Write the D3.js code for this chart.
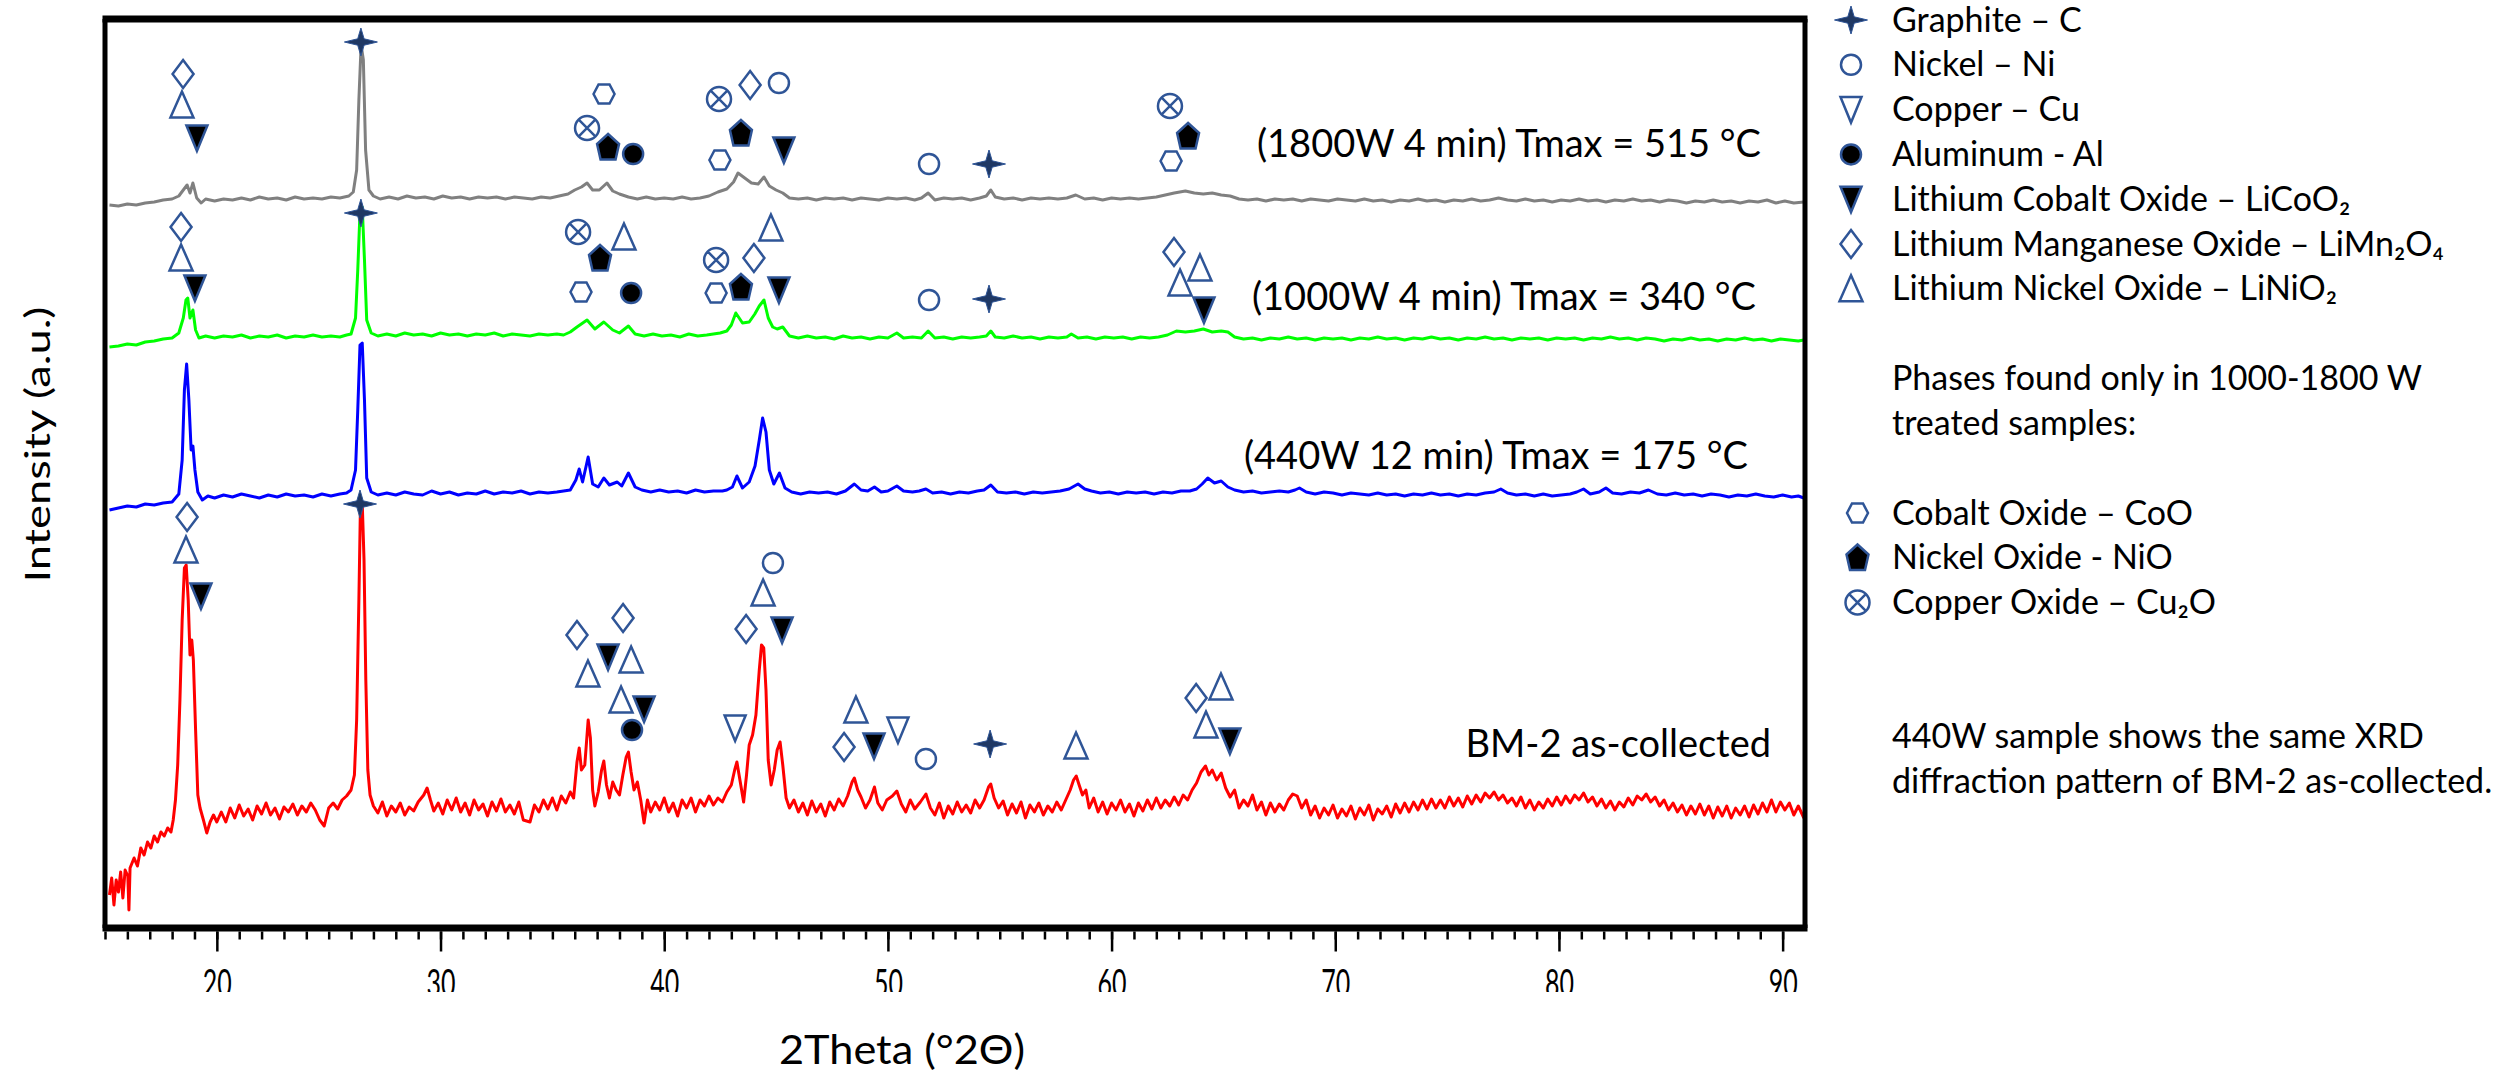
<!DOCTYPE html>
<html>
<head>
<meta charset="utf-8">
<script src="https://cdn.jsdelivr.net/npm/d3@7"></script>
<style>
  body { margin: 0; background: #fff; }
  text { font-family: Lato, 'Open Sans', sans-serif; fill: #000; }
</style>
</head>
<body>
<script>
// XRD traces, [2theta, intensity a.u.] (stacked, offsets included)
const trace1800 = [[15.2,723],[15.6,722],[16.0,724],[16.4,723],[16.8,725],[17.2,726],[17.6,728],[18.0,729],[18.3,732],[18.5,738],[18.67,743],[18.8,735],[18.93,745],[19.1,730],[19.3,725],[19.5,729],[19.9,727],[20.3,729],[20.7,728],[21.1,730],[21.5,728],[21.9,731],[22.3,729],[22.7,730],[23.1,728],[23.5,731],[23.9,729],[24.3,730],[24.7,729],[25.1,731],[25.5,730],[25.9,732],[26.1,736],[26.25,758],[26.35,828],[26.45,883],[26.55,868],[26.65,778],[26.8,738],[27.0,732],[27.3,729],[27.7,731],[28.1,729],[28.5,732],[28.9,730],[29.3,731],[29.7,729],[30.1,732],[30.5,730],[30.9,731],[31.3,729],[31.7,731],[32.1,730],[32.5,731],[32.9,729],[33.3,731],[33.7,730],[34.1,729],[34.5,731],[34.9,730],[35.3,732],[35.7,734],[36.0,738],[36.3,741],[36.55,745],[36.8,738],[37.1,738],[37.44,745],[37.7,737],[38.0,734],[38.4,731],[38.8,729],[39.2,731],[39.6,729],[40.0,730],[40.4,729],[40.8,731],[41.2,729],[41.6,730],[42.0,732],[42.4,736],[42.8,739],[43.1,746],[43.3,755],[43.6,750],[43.9,745],[44.2,744],[44.46,751],[44.7,742],[45.0,738],[45.3,735],[45.6,730],[46.0,729],[46.4,730],[46.8,728],[47.2,730],[47.6,729],[48.0,730],[48.4,728],[48.8,730],[49.2,729],[49.6,728],[50.0,730],[50.4,729],[50.8,730],[51.2,728],[51.5,730],[51.8,735],[52.1,728],[52.5,730],[52.9,729],[53.3,730],[53.7,728],[54.1,730],[54.4,732],[54.6,738],[54.8,731],[55.2,729],[55.6,730],[56.0,728],[56.4,730],[56.8,729],[57.2,730],[57.6,729],[58.0,730],[58.4,733],[58.8,729],[59.2,730],[59.6,728],[60.0,730],[60.4,729],[60.8,730],[61.2,729],[61.6,730],[62.0,731],[62.4,733],[62.8,735],[63.3,737],[63.7,735],[64.1,734],[64.5,735],[64.9,733],[65.3,732],[65.7,729],[66.1,728],[66.5,729],[66.9,727],[67.3,729],[67.7,728],[68.1,729],[68.5,727],[68.9,729],[69.3,728],[69.7,727],[70.1,729],[70.5,728],[70.9,727],[71.3,729],[71.7,727],[72.1,728],[72.5,726],[72.9,728],[73.3,727],[73.7,729],[74.1,727],[74.5,728],[74.9,726],[75.3,728],[75.7,727],[76.1,729],[76.5,727],[76.9,728],[77.3,730],[77.7,728],[78.1,727],[78.5,729],[78.9,727],[79.3,728],[79.7,726],[80.1,728],[80.5,727],[80.9,729],[81.3,727],[81.7,728],[82.1,726],[82.5,728],[82.9,727],[83.3,729],[83.7,727],[84.1,728],[84.5,726],[84.9,728],[85.3,727],[85.7,725],[86.1,727],[86.5,726],[86.9,728],[87.3,726],[87.7,727],[88.1,725],[88.5,727],[88.9,726],[89.3,728],[89.7,725],[90.1,727],[90.5,725],[90.95,726]]

const trace1000 = [[15.2,581],[15.6,582],[16.0,584],[16.4,583],[16.8,586],[17.2,587],[17.6,589],[18.0,590],[18.3,595],[18.5,610],[18.62,628],[18.7,630],[18.8,610],[18.93,618],[19.05,598],[19.2,590],[19.5,592],[19.9,590],[20.3,592],[20.7,591],[21.1,593],[21.5,590],[21.9,592],[22.3,591],[22.7,593],[23.1,590],[23.5,592],[23.9,591],[24.3,593],[24.7,591],[25.1,592],[25.5,591],[25.8,593],[26.0,594],[26.2,610],[26.3,658],[26.4,716],[26.5,721],[26.6,668],[26.7,608],[26.9,595],[27.2,592],[27.6,594],[28.0,592],[28.4,595],[28.8,593],[29.2,594],[29.6,592],[30.0,595],[30.4,593],[30.8,594],[31.2,592],[31.6,594],[32.0,593],[32.4,595],[32.8,592],[33.2,594],[33.6,593],[34.0,592],[34.4,594],[34.8,593],[35.2,594],[35.5,593],[35.8,596],[36.1,601],[36.55,608],[36.9,599],[37.3,606],[37.7,598],[38.0,595],[38.4,602],[38.7,594],[39.1,592],[39.5,594],[39.9,592],[40.3,593],[40.7,591],[41.1,594],[41.5,592],[41.9,593],[42.2,594],[42.5,595],[42.8,597],[43.0,603],[43.2,615],[43.5,605],[43.8,606],[44.05,614],[44.25,622],[44.46,628],[44.65,610],[44.85,601],[45.05,599],[45.3,601],[45.6,592],[46.0,590],[46.4,592],[46.8,590],[47.2,591],[47.6,589],[48.0,592],[48.4,590],[48.8,591],[49.2,589],[49.6,591],[50.0,590],[50.4,595],[50.7,590],[51.1,591],[51.5,590],[51.8,597],[52.1,590],[52.5,591],[52.9,589],[53.3,591],[53.7,590],[54.1,591],[54.4,592],[54.6,597],[54.8,591],[55.2,590],[55.6,592],[56.0,590],[56.4,591],[56.8,589],[57.2,591],[57.6,590],[58.0,591],[58.2,594],[58.5,590],[58.9,591],[59.3,589],[59.7,591],[60.1,590],[60.5,591],[60.9,589],[61.3,591],[61.7,590],[62.1,591],[62.5,593],[62.9,597],[63.3,596],[63.7,597],[64.1,599],[64.5,596],[64.9,597],[65.2,596],[65.5,591],[65.9,589],[66.3,590],[66.7,588],[67.1,590],[67.5,589],[67.9,591],[68.3,589],[68.7,590],[69.1,588],[69.5,590],[69.9,589],[70.3,590],[70.7,588],[71.1,590],[71.5,589],[71.9,591],[72.3,589],[72.7,590],[73.1,588],[73.5,590],[73.9,589],[74.3,591],[74.7,589],[75.1,590],[75.5,588],[75.9,590],[76.3,589],[76.7,591],[77.1,589],[77.5,590],[77.9,588],[78.3,590],[78.7,589],[79.1,590],[79.5,588],[79.9,590],[80.3,589],[80.7,590],[81.1,588],[81.5,590],[81.9,589],[82.3,591],[82.7,589],[83.1,590],[83.5,588],[83.9,590],[84.3,589],[84.7,587],[85.1,589],[85.5,588],[85.9,590],[86.3,588],[86.7,589],[87.1,587],[87.5,589],[87.9,588],[88.3,590],[88.7,588],[89.1,589],[89.5,587],[89.9,589],[90.3,588],[90.7,587],[90.95,588]]

const trace440 = [[15.2,418],[15.6,420],[16.0,422],[16.4,421],[16.8,424],[17.2,423],[17.6,425],[18.0,426],[18.3,434],[18.45,468],[18.55,538],[18.65,564],[18.75,528],[18.85,478],[18.93,482],[19.02,458],[19.15,436],[19.35,428],[19.6,432],[19.9,430],[20.3,433],[20.7,431],[21.1,434],[21.5,432],[21.9,430],[22.3,433],[22.7,431],[23.1,434],[23.5,432],[23.9,433],[24.3,431],[24.7,434],[25.1,432],[25.5,434],[25.8,435],[26.0,438],[26.2,458],[26.3,518],[26.4,583],[26.5,585],[26.6,528],[26.7,450],[26.9,436],[27.2,433],[27.6,435],[28.0,433],[28.4,436],[28.8,434],[29.2,433],[29.6,437],[30.0,434],[30.4,436],[30.8,433],[31.2,435],[31.6,434],[32.0,437],[32.4,434],[32.8,436],[33.2,435],[33.6,437],[34.0,434],[34.4,436],[34.8,435],[35.2,436],[35.5,437],[35.8,438],[36.05,448],[36.2,459],[36.35,446],[36.6,471],[36.8,444],[37.05,441],[37.3,450],[37.55,443],[37.9,446],[38.1,442],[38.4,455],[38.7,441],[39.0,438],[39.4,436],[39.8,438],[40.2,436],[40.6,437],[41.0,435],[41.4,438],[41.8,436],[42.2,437],[42.6,437],[42.8,438],[43.05,441],[43.25,452],[43.5,440],[43.8,446],[44.06,462],[44.25,488],[44.4,510],[44.55,496],[44.7,458],[44.9,444],[45.15,455],[45.4,440],[45.7,436],[46.1,434],[46.5,436],[46.9,435],[47.3,436],[47.7,434],[48.1,437],[48.5,444],[48.8,438],[49.1,437],[49.4,441],[49.7,436],[50.0,437],[50.4,442],[50.7,437],[51.1,436],[51.4,437],[51.7,439],[52.0,435],[52.4,436],[52.8,434],[53.2,436],[53.6,435],[54.0,437],[54.3,438],[54.6,443],[54.9,436],[55.3,435],[55.7,436],[56.1,434],[56.5,436],[56.9,435],[57.3,436],[57.7,437],[58.1,439],[58.5,444],[58.8,439],[59.1,437],[59.5,435],[59.9,436],[60.3,434],[60.7,436],[61.1,435],[61.5,436],[61.9,434],[62.3,436],[62.7,435],[63.1,437],[63.5,437],[63.8,439],[64.05,444],[64.3,450],[64.6,445],[64.9,447],[65.2,441],[65.5,438],[65.9,436],[66.3,437],[66.7,435],[67.1,436],[67.5,437],[67.9,436],[68.2,438],[68.4,440],[68.7,436],[69.1,434],[69.5,436],[69.9,435],[70.3,433],[70.7,435],[71.1,434],[71.5,433],[71.9,435],[72.3,433],[72.7,434],[73.1,432],[73.5,434],[73.9,433],[74.3,435],[74.7,433],[75.1,434],[75.5,432],[75.9,434],[76.3,433],[76.7,435],[77.1,436],[77.4,439],[77.7,435],[78.1,433],[78.5,434],[78.9,432],[79.3,434],[79.7,432],[80.1,433],[80.5,434],[80.8,436],[81.1,439],[81.4,434],[81.8,436],[82.1,440],[82.4,435],[82.8,434],[83.2,436],[83.6,435],[84.0,438],[84.4,434],[84.8,433],[85.2,435],[85.6,433],[86.0,434],[86.4,432],[86.8,434],[87.2,433],[87.6,431],[88.0,433],[88.4,432],[88.8,434],[89.2,432],[89.6,431],[90.0,433],[90.4,431],[90.7,432],[90.95,430]]

const traceBM2 = [[15.2,33],[15.3,50],[15.4,23],[15.5,48],[15.6,36],[15.7,56],[15.8,30],[15.9,58],[16.02,52],[16.07,18],[16.12,60],[16.3,70],[16.45,62],[16.6,80],[16.75,73],[16.9,86],[17.05,80],[17.2,92],[17.35,86],[17.5,96],[17.65,92],[17.8,100],[17.95,96],[18.05,108],[18.15,128],[18.25,163],[18.35,228],[18.45,308],[18.55,360],[18.63,363],[18.72,328],[18.8,273],[18.88,288],[18.95,268],[19.05,198],[19.15,133],[19.25,120],[19.4,108],[19.55,95],[19.7,106],[19.85,113],[20.0,106],[20.2,116],[20.4,106],[20.6,120],[20.8,110],[21.0,123],[21.2,112],[21.4,119],[21.6,108],[21.8,122],[22.0,114],[22.2,125],[22.4,113],[22.6,120],[22.8,109],[23.0,121],[23.2,116],[23.4,124],[23.6,113],[23.8,122],[24.0,116],[24.2,125],[24.4,118],[24.6,108],[24.8,102],[25.0,120],[25.2,125],[25.4,119],[25.6,128],[25.8,132],[26.0,138],[26.15,153],[26.25,208],[26.35,328],[26.42,423],[26.5,425],[26.58,368],[26.66,248],[26.75,158],[26.85,133],[27.0,122],[27.2,115],[27.4,126],[27.6,112],[27.8,122],[28.0,116],[28.2,125],[28.4,113],[28.6,121],[28.8,117],[29.0,126],[29.25,133],[29.4,140],[29.55,128],[29.7,117],[29.9,125],[30.1,114],[30.3,128],[30.5,118],[30.7,130],[30.9,116],[31.1,125],[31.3,113],[31.5,128],[31.7,118],[31.9,124],[32.1,112],[32.3,126],[32.5,117],[32.7,129],[32.9,116],[33.1,123],[33.3,114],[33.5,126],[33.7,108],[34.0,106],[34.2,123],[34.4,116],[34.6,128],[34.8,119],[35.0,130],[35.2,118],[35.4,132],[35.6,125],[35.8,136],[35.95,130],[36.1,166],[36.2,180],[36.3,158],[36.45,163],[36.6,208],[36.7,190],[36.8,138],[36.9,122],[37.05,136],[37.2,158],[37.3,167],[37.42,143],[37.55,130],[37.7,146],[37.85,138],[38.0,133],[38.15,153],[38.3,171],[38.4,176],[38.52,156],[38.65,138],[38.8,146],[38.95,128],[39.1,105],[39.25,128],[39.4,116],[39.6,126],[39.8,118],[40.0,130],[40.2,116],[40.4,125],[40.6,112],[40.8,128],[41.0,120],[41.2,130],[41.4,116],[41.6,128],[41.8,122],[42.0,132],[42.2,123],[42.4,130],[42.6,126],[42.8,136],[43.0,143],[43.15,158],[43.25,166],[43.4,146],[43.55,126],[43.68,153],[43.8,183],[43.95,193],[44.1,213],[44.25,258],[44.35,283],[44.45,280],[44.55,238],[44.65,168],[44.78,143],[44.92,158],[45.05,178],[45.18,186],[45.3,163],[45.45,130],[45.6,120],[45.8,128],[46.0,116],[46.2,125],[46.4,113],[46.6,127],[46.8,116],[47.0,124],[47.2,112],[47.4,126],[47.6,118],[47.8,129],[48.0,122],[48.2,132],[48.4,146],[48.5,150],[48.65,138],[48.8,131],[49.0,120],[49.2,128],[49.4,141],[49.55,125],[49.75,118],[49.95,128],[50.2,132],[50.4,137],[50.6,124],[50.8,116],[51.0,128],[51.2,119],[51.45,126],[51.7,134],[51.9,120],[52.1,113],[52.3,125],[52.5,110],[52.7,122],[52.9,114],[53.1,126],[53.3,116],[53.5,123],[53.7,115],[53.9,128],[54.1,120],[54.3,128],[54.5,141],[54.6,144],[54.75,130],[54.95,120],[55.15,127],[55.35,113],[55.55,124],[55.75,115],[55.95,126],[56.15,110],[56.35,123],[56.55,116],[56.75,125],[56.95,113],[57.15,122],[57.35,116],[57.55,126],[57.75,118],[57.95,128],[58.15,138],[58.3,148],[58.42,152],[58.55,143],[58.7,133],[58.85,138],[59.0,120],[59.2,130],[59.4,116],[59.6,126],[59.8,114],[60.0,125],[60.2,118],[60.4,128],[60.6,116],[60.8,124],[61.0,112],[61.2,125],[61.4,117],[61.6,128],[61.8,119],[62.0,130],[62.2,120],[62.4,128],[62.6,122],[62.8,131],[63.0,123],[63.2,133],[63.4,128],[63.6,138],[63.8,145],[64.0,156],[64.2,162],[64.35,153],[64.5,158],[64.7,148],[64.9,155],[65.1,140],[65.3,131],[65.5,138],[65.7,120],[65.9,128],[66.1,122],[66.3,133],[66.5,118],[66.7,126],[66.9,113],[67.1,125],[67.3,116],[67.5,124],[67.7,118],[67.9,128],[68.1,134],[68.3,132],[68.5,120],[68.7,128],[68.9,113],[69.1,122],[69.3,110],[69.5,120],[69.7,113],[69.9,123],[70.1,110],[70.3,119],[70.5,112],[70.7,122],[70.9,109],[71.1,120],[71.3,113],[71.5,123],[71.7,108],[71.9,119],[72.1,114],[72.3,122],[72.5,111],[72.7,124],[72.9,115],[73.1,125],[73.3,116],[73.5,126],[73.7,118],[73.9,128],[74.1,119],[74.3,129],[74.5,120],[74.7,128],[74.9,120],[75.1,131],[75.3,122],[75.5,130],[75.7,121],[75.9,132],[76.1,124],[76.3,133],[76.5,126],[76.7,135],[76.9,130],[77.1,136],[77.3,128],[77.5,133],[77.7,125],[77.9,130],[78.1,122],[78.3,131],[78.5,120],[78.7,128],[78.9,118],[79.1,126],[79.3,120],[79.5,129],[79.7,122],[79.9,131],[80.1,123],[80.3,132],[80.5,125],[80.7,133],[80.9,128],[81.1,135],[81.3,126],[81.5,131],[81.7,122],[81.9,129],[82.1,120],[82.3,127],[82.5,118],[82.7,126],[82.9,121],[83.1,130],[83.3,123],[83.5,132],[83.7,128],[83.9,134],[84.1,126],[84.3,131],[84.5,122],[84.7,128],[84.9,118],[85.1,125],[85.3,116],[85.5,123],[85.7,113],[85.9,122],[86.1,114],[86.3,124],[86.5,113],[86.7,122],[86.9,110],[87.1,121],[87.3,112],[87.5,122],[87.7,110],[87.9,120],[88.1,113],[88.3,122],[88.5,111],[88.7,123],[88.9,114],[89.1,125],[89.3,116],[89.5,128],[89.7,116],[89.9,126],[90.1,118],[90.3,125],[90.5,113],[90.7,122],[90.95,110]]

// phase markers: [phase, 2theta, intensity]
const marks1800 = [['LiMn2O4',18.49,854],['LiNiO2',18.44,823],['LiCoO2',19.11,790],['C',26.44,886],['CoO',37.31,834],['Cu2O',36.55,800],['NiO',37.49,781],['Al',38.61,774],['Cu2O',42.45,829],['LiMn2O4',43.84,843],['Ni',45.13,845],['NiO',43.43,795],['LiCoO2',45.35,778],['CoO',42.49,768],['Ni',51.84,764],['C',54.52,764],['Cu2O',62.61,822],['NiO',63.42,792],['CoO',62.66,767]]
const marks1000 = [['LiMn2O4',18.40,701],['LiNiO2',18.40,670],['LiCoO2',19.02,640],['C',26.44,715],['Cu2O',36.15,696],['LiNiO2',38.20,691],['NiO',37.13,670],['CoO',36.28,636],['Al',38.52,635],['Cu2O',42.32,668],['CoO',42.32,635],['NiO',43.43,641],['LiMn2O4',44.01,670],['LiNiO2',44.77,700],['LiCoO2',45.13,638],['Ni',51.84,628],['C',54.52,629],['LiMn2O4',62.79,676],['LiNiO2',63.95,660],['LiNiO2',63.06,645],['LiCoO2',64.13,618]]
const marksBM2 = [['C',26.40,424],['LiMn2O4',18.67,411],['LiNiO2',18.62,378],['LiCoO2',19.29,332],['LiMn2O4',36.10,293],['LiMn2O4',38.16,310],['LiCoO2',37.49,271],['LiNiO2',38.52,268],['LiNiO2',36.59,254],['LiNiO2',38.07,228],['LiCoO2',39.10,219],['Al',38.56,198],['Cu',43.17,200],['Ni',44.86,365],['LiNiO2',44.42,335],['LiMn2O4',43.66,299],['LiCoO2',45.27,298],['LiNiO2',48.57,218],['Cu',50.45,198],['LiMn2O4',48.04,181],['LiCoO2',49.38,182],['Ni',51.70,169],['C',54.57,184],['LiNiO2',58.41,182],['LiMn2O4',63.78,230],['LiNiO2',64.89,241],['LiNiO2',64.22,203],['LiCoO2',65.29,187]]

const sampleLabels = ['(1800W 4 min) Tmax = 515 °C', '(1000W 4 min) Tmax = 340 °C', '(440W 12 min) Tmax = 175 °C', 'BM-2 as-collected']
const legendPhases = ['C', 'Ni', 'Cu', 'Al', 'LiCoO2', 'LiMn2O4', 'LiNiO2']
const legendNames = ['Graphite – C', 'Nickel – Ni', 'Copper – Cu', 'Aluminum - Al', 'Lithium Cobalt Oxide – LiCoO₂', 'Lithium Manganese Oxide – LiMn₂O₄', 'Lithium Nickel Oxide – LiNiO₂']
const oxidePhases = ['CoO', 'NiO', 'Cu2O']
const oxideNames = ['Cobalt Oxide – CoO', 'Nickel Oxide - NiO', 'Copper Oxide – Cu₂O']
const majorTicks = [20, 30, 40, 50, 60, 70, 80, 90]

const W = 2516, H = 1074
const plot = { left: 105, right: 1805, top: 19, bottom: 928 }
const markBlue = '#2f5597'

const x = d3.scaleLinear().domain([15, 91]).range([plot.left, plot.right])
const y = d3.scaleLinear().domain([0, 909]).range([plot.bottom, plot.top])

let svg

function createSVG() {
  svg = d3.select('body').append('svg').attr('width', W).attr('height', H)
  svg.append('clipPath').attr('id', 'plotclip')
    .append('rect').attr('x', plot.left).attr('y', plot.top).attr('width', plot.right - plot.left).attr('height', plot.bottom - plot.top)
  svg.append('clipPath').attr('id', 'tickclip')
    .append('rect').attr('x', 0).attr('y', plot.bottom).attr('width', W).attr('height', 992 - plot.bottom)
}

function symbolPath(kind) {
  const p = d3.path()
  const poly = pts => { p.moveTo(pts[0][0], pts[0][1]); pts.slice(1).forEach(q => p.lineTo(q[0], q[1])); p.closePath() }
  switch (kind) {
    case 'C': poly([[0,-14],[3.2,-3.2],[16.5,0],[3.2,3.2],[0,14],[-3.2,3.2],[-16.5,0],[-3.2,-3.2]]); break
    case 'Ni':
    case 'Al': p.moveTo(10, 0); p.arc(0, 0, 10, 0, 2 * Math.PI); break
    case 'Cu':
    case 'LiCoO2': poly([[-10.5,-12.5],[10.5,-12.5],[0,13]]); break
    case 'LiMn2O4': poly([[0,-14],[10.5,0],[0,14],[-10.5,0]]); break
    case 'LiNiO2': poly([[0,-13.5],[11.5,12.5],[-11.5,12.5]]); break
    case 'CoO': poly([[-10.5,0],[-5.5,-9.5],[5.5,-9.5],[10.5,0],[5.5,9.5],[-5.5,9.5]]); break
    case 'NiO': poly([[0,-13],[11,-3],[7.5,12.5],[-7.5,12.5],[-11,-3]]); break
    case 'Cu2O':
      p.moveTo(12, 0); p.arc(0, 0, 12, 0, 2 * Math.PI)
      p.moveTo(-8.3, -8.3); p.lineTo(8.3, 8.3); p.moveTo(8.3, -8.3); p.lineTo(-8.3, 8.3); break
  }
  return p.toString()
}

function symbolFill(kind) {
  if (kind === 'C') return '#1f3864'
  if (kind === 'Al' || kind === 'LiCoO2' || kind === 'NiO') return '#000'
  return 'none'
}

function drawSymbol(g, kind, cx, cy) {
  g.append('path')
    .attr('d', symbolPath(kind))
    .attr('transform', `translate(${cx},${cy})`)
    .attr('fill', symbolFill(kind))
    .attr('stroke', markBlue)
    .attr('stroke-width', kind === 'C' ? 1 : 2.5)
    .attr('stroke-linejoin', 'miter')
}

function drawTraces() {
  const line = d3.line().x(d => x(d[0])).y(d => y(d[1]))
  const g = svg.append('g').attr('clip-path', 'url(#plotclip)')
  const series = [[trace1800, '#808080'], [trace1000, '#00ff00'], [trace440, '#0000ff'], [traceBM2, '#ff0000']]
  series.forEach(s => {
    g.append('path').datum(s[0])
      .attr('d', line)
      .attr('fill', 'none')
      .attr('stroke', s[1])
      .attr('stroke-width', 3)
      .attr('stroke-linejoin', 'round')
  })
}

function drawMarks() {
  const g = svg.append('g')
  marks1800.concat(marks1000, marksBM2).forEach(m => drawSymbol(g, m[0], x(m[1]), y(m[2])))
}

function drawSampleLabels() {
  const rightEdge = [1761, 1756, 1748, 1771]
  const baseline = [157, 310, 469, 757]
  sampleLabels.forEach((t, i) => {
    svg.append('text')
      .attr('x', rightEdge[i]).attr('y', baseline[i])
      .attr('text-anchor', 'end')
      .attr('font-size', 38)
      .text(t)
  })
}

function drawFrame() {
  const f = svg.append('g').attr('stroke', '#000')
  f.append('line').attr('x1', plot.left - 2.5).attr('x2', plot.right + 2.5).attr('y1', plot.top).attr('y2', plot.top).attr('stroke-width', 7)
  f.append('line').attr('x1', plot.left - 2.5).attr('x2', plot.right + 2.5).attr('y1', plot.bottom).attr('y2', plot.bottom).attr('stroke-width', 7)
  f.append('line').attr('x1', plot.left).attr('x2', plot.left).attr('y1', plot.top).attr('y2', plot.bottom).attr('stroke-width', 5)
  f.append('line').attr('x1', plot.right).attr('x2', plot.right).attr('y1', plot.top).attr('y2', plot.bottom).attr('stroke-width', 5)
}

function drawAxes() {
  const outer = svg.append('g').attr('clip-path', 'url(#tickclip)')
  const minor = outer.append('g').attr('transform', `translate(0,${plot.bottom + 3.5})`)
    .call(d3.axisBottom(x).tickValues(d3.range(15, 91)).tickSize(8).tickFormat(''))
  const major = outer.append('g').attr('transform', `translate(0,${plot.bottom + 3.5})`)
    .call(d3.axisBottom(x).tickValues(majorTicks).tickSize(20).tickFormat(d3.format('d')))
  ;[minor, major].forEach(a => {
    a.select('.domain').remove()
    a.attr('font-family', null).attr('font-size', null)
    a.selectAll('.tick line').attr('stroke', '#000').attr('stroke-width', 2.5)
  })
  major.selectAll('.tick text')
    .attr('y', 65).attr('dy', null)
    .attr('font-size', 38)
    .attr('textLength', 29).attr('lengthAdjust', 'spacingAndGlyphs')

  svg.append('text')
    .attr('x', 902).attr('y', 1064)
    .attr('text-anchor', 'middle')
    .attr('font-size', 40)
    .attr('textLength', 246).attr('lengthAdjust', 'spacingAndGlyphs')
    .text('2Theta (°2Θ)')

  svg.append('text')
    .attr('transform', 'translate(50,444.5) rotate(-90)')
    .attr('text-anchor', 'middle')
    .attr('font-size', 34)
    .attr('textLength', 276).attr('lengthAdjust', 'spacingAndGlyphs')
    .text('Intensity (a.u.)')
}

function drawLegend() {
  const g = svg.append('g')
  legendPhases.forEach((k, i) => {
    const cy = 20 + i * 44.8
    drawSymbol(g, k, 1851, cy)
    g.append('text').attr('x', 1892).attr('y', cy + 11.5).attr('font-size', 34).text(legendNames[i])
  })

  g.append('text').attr('x', 1892).attr('y', 390).attr('font-size', 34).text('Phases found only in 1000-1800 W')
  g.append('text').attr('x', 1892).attr('y', 435).attr('font-size', 34).text('treated samples:')

  const oxideY = [513, 557.5, 602.5]
  oxidePhases.forEach((k, i) => {
    drawSymbol(g, k, 1857.5, oxideY[i])
    g.append('text').attr('x', 1892).attr('y', oxideY[i] + 11.5).attr('font-size', 34).text(oxideNames[i])
  })

  g.append('text').attr('x', 1892).attr('y', 748).attr('font-size', 34).text('440W sample shows the same XRD')
  g.append('text').attr('x', 1892).attr('y', 793).attr('font-size', 34).text('diffraction pattern of BM-2 as-collected.')
}

createSVG()
drawTraces()
drawMarks()
drawSampleLabels()
drawFrame()
drawAxes()
drawLegend()
</script>
</body>
</html>
